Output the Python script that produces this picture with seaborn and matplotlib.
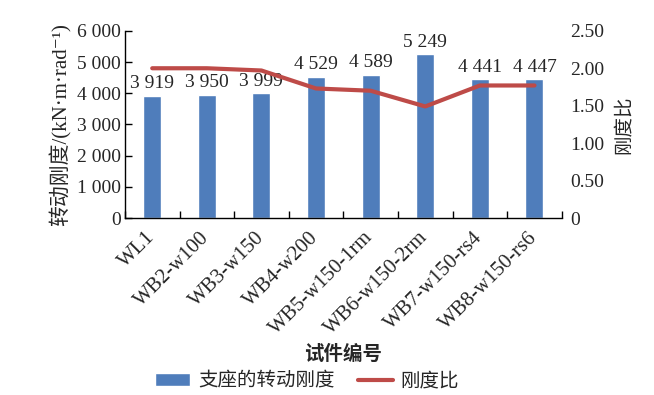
import numpy as np
import pandas as pd
import matplotlib.pyplot as plt
import seaborn as sns

specimens = ["WL1", "WB2-w100", "WB3-w150", "WB4-w200", "WB5-w150-1rm",
             "WB6-w150-2rm", "WB7-w150-rs4", "WB8-w150-rs6"]
stiffness = [3919, 3950, 3999, 4529, 4589, 5249, 4441, 4447]
stiff_labels = ["3 919", "3 950", "3 999", "4 529", "4 589", "5 249", "4 441", "4 447"]
ratio = [2.00, 2.00, 1.97, 1.73, 1.70, 1.49, 1.77, 1.77]
left_ticks = [0, 1000, 2000, 3000, 4000, 5000, 6000]
left_ticklabels = ["0", "1 000", "2 000", "3 000", "4 000", "5 000", "6 000"]
right_ticks = [0, 0.5, 1.0, 1.5, 2.0, 2.5]
right_ticklabels = ["0", "0.50", "1.00", "1.50", "2.00", "2.50"]

sns.set_theme(style="white")
plt.rcParams["font.family"] = ["Liberation Serif", "Noto Sans CJK SC"]

bar_color = "#4F7DBB"
line_color = "#BE4B48"
cjk = ["Noto Sans CJK SC", "Liberation Serif"]
serif_cjk = ["Liberation Serif", "Noto Sans CJK SC", "DejaVu Serif"]

df = pd.DataFrame({"specimen": specimens, "stiffness": stiffness, "ratio": ratio})

fig = plt.figure(figsize=(6.54, 3.95), dpi=100)
ax = fig.add_axes([0.191, 0.448, 0.668, 0.474])
sns.barplot(data=df, x="specimen", y="stiffness", color=bar_color, width=0.33,
            saturation=1, ax=ax, label="支座的转动刚度")
for i, (v, s) in enumerate(zip(stiffness, stiff_labels)):
    ax.text(i, v + 110, s, ha="center", va="bottom", fontsize=14)

ax.set_ylim(0, 6000)
ax.set_xlim(-0.5, len(specimens) - 0.5)
ax.set_yticks(left_ticks)
ax.set_yticklabels(left_ticklabels, fontsize=14)
ax.set_xticks(np.arange(len(specimens)))
ax.set_xticklabels(specimens, rotation=45, ha="right", va="center",
                   rotation_mode="anchor", fontsize=15)
ax.tick_params(axis="x", length=0, pad=12)
ax.tick_params(axis="y", direction="in", length=5, width=1, color="black", pad=3)
# boundary ticks between categories
ax.set_xticks(np.arange(len(specimens) + 1) - 0.5, minor=True)
ax.tick_params(axis="x", which="minor", direction="in", length=5, width=1, color="black", bottom=True)
ax.set_ylabel("转动刚度/(kN·m·rad⁻¹)", fontsize=15, family=serif_cjk, labelpad=4)
ax.set_xlabel("试件编号", fontsize=14, family=cjk, fontweight="bold", labelpad=4)
for side in ["top", "right"]:
    ax.spines[side].set_visible(False)
for side in ["left", "bottom"]:
    ax.spines[side].set_color("black")
    ax.spines[side].set_linewidth(1)

ax2 = ax.twinx()
sns.lineplot(x=np.arange(len(specimens)), y=ratio, color=line_color, linewidth=3,
             ax=ax2, label="刚度比")
ax2.set_ylim(0, 2.5)
ax2.set_yticks(right_ticks)
ax2.set_yticklabels(right_ticklabels, fontsize=14)
ax2.tick_params(axis="y", length=0, pad=6)
ax2.set_ylabel("刚度比", fontsize=14, family=cjk, labelpad=6)
for side in ["top", "right", "left", "bottom"]:
    ax2.spines[side].set_visible(False)
ax2.get_legend().remove()

h1, l1 = ax.get_legend_handles_labels()
h2, l2 = ax2.get_legend_handles_labels()
if ax.get_legend() is not None:
    ax.get_legend().remove()
fig.legend(h1 + h2, l1 + l2, loc="lower center", bbox_to_anchor=(0.47, -0.035), ncol=2,
           frameon=False, prop={"family": cjk, "size": 14}, handlelength=1.8,
           handleheight=0.6, columnspacing=1.2, handletextpad=0.4)

fig.savefig("out.png", dpi=100)
